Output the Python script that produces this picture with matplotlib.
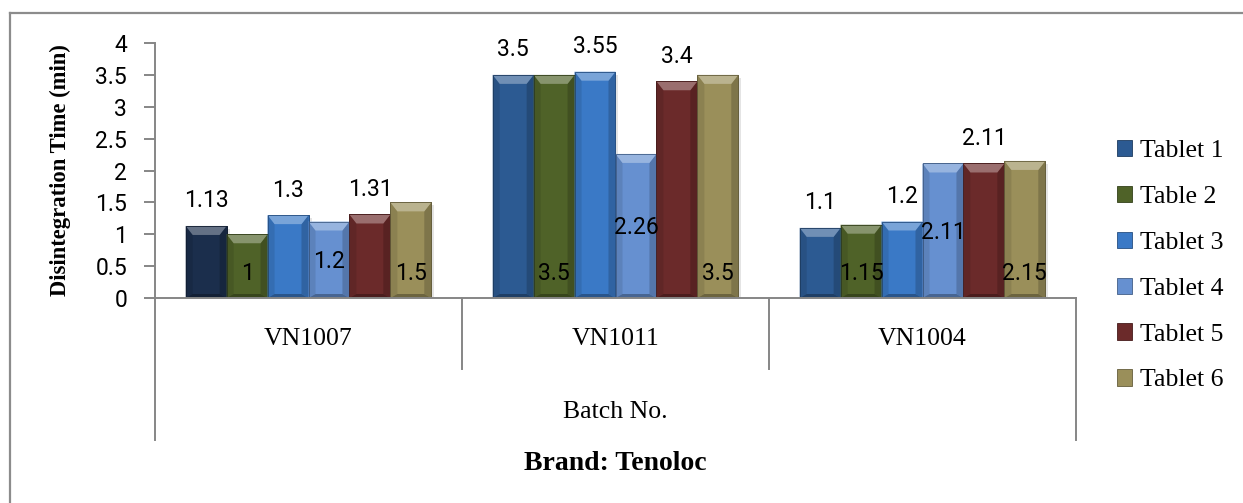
import matplotlib
matplotlib.use("Agg")
import matplotlib.pyplot as plt
from matplotlib.patches import Polygon, Rectangle
from matplotlib.lines import Line2D
from matplotlib.colors import to_rgb
import numpy as np

# ---------------- data ----------------
batches = ["VN1007", "VN1011", "VN1004"]
series_names = ["Tablet 1", "Table 2", "Tablet 3", "Tablet 4", "Tablet 5", "Tablet 6"]
tablet1 = [1.13, 3.5, 1.1]
table2 = [1.0, 3.5, 1.15]
tablet3 = [1.3, 3.55, 1.2]
tablet4 = [1.2, 2.26, 2.11]
tablet5 = [1.31, 3.4, 2.11]
tablet6 = [1.5, 3.5, 2.15]
series_values = [tablet1, table2, tablet3, tablet4, tablet5, tablet6]
y_ticks = [0, 0.5, 1, 1.5, 2, 2.5, 3, 3.5, 4]
y_tick_labels = ["0", "0.5", "1", "1.5", "2", "2.5", "3", "3.5", "4"]

# ---------------- style ----------------
colors = ["#2c5a92", "#4f6228", "#3a79c6", "#6690d0", "#6b2a2a", "#9a8f5a"]
point_color_override = {(0, 0): "#1b2e4c"}   # (series, category)
label_modes = ["out", "base", "out", "center", "out", "base"]
W, H, DPI = 12.43, 5.03, 100
PXW, PXH = 1243, 503
SERIF = "Liberation Serif"
SANS = "Roboto"
AX_GRAY = "#868686"


def mix(c, other, t):
    c = np.array(to_rgb(c)); o = np.array(to_rgb(other))
    return tuple(c * (1 - t) + o * t)


fig = plt.figure(figsize=(W, H), dpi=DPI)
ax_left, ax_right, ax_top, ax_bot = 155, 1076, 43, 298
ax = fig.add_axes([ax_left / PXW, 1 - ax_bot / PXH,
                   (ax_right - ax_left) / PXW, (ax_bot - ax_top) / PXH])
ax.set_xlim(-0.5, len(batches) - 0.5)
ax.set_ylim(0, 4)

n = len(series_names)
bw = 0.8 / n
x = np.arange(len(batches))

# pixel -> data scale
px_x = (len(batches)) / (ax_right - ax_left)
px_y = 4.0 / (ax_bot - ax_top)
bx = 7 * px_x
by = 9 * px_y
bb = 4 * px_y

handles = []
for j, (name, vals) in enumerate(zip(series_names, series_values)):
    xs = x + (j - (n - 1) / 2) * bw
    cols = [point_color_override.get((j, i), colors[j]) for i in range(len(batches))]
    bars = ax.bar(xs, vals, width=bw, color=cols, edgecolor=[mix(c, "k", 0.35) for c in cols],
                  linewidth=0.6, zorder=3, label=name)
    for rect, c, v in zip(bars, cols, vals):
        x0 = rect.get_x(); x1 = x0 + rect.get_width(); h = rect.get_height()
        # soft shadow
        ax.add_patch(Rectangle((x0 + 3 * px_x, 0), rect.get_width(), h - 3 * px_y,
                               facecolor="#e4e4e4", edgecolor="none", zorder=2))
        top = Polygon([(x0, h), (x1, h), (x1 - bx, h - by), (x0 + bx, h - by)],
                      closed=True, facecolor=mix(c, "white", 0.32), edgecolor="none", zorder=4)
        left = Polygon([(x0, 0), (x0, h), (x0 + bx, h - by), (x0 + bx, bb)],
                       closed=True, facecolor=mix(c, "black", 0.10), edgecolor="none", zorder=4)
        right = Polygon([(x1, 0), (x1, h), (x1 - bx, h - by), (x1 - bx, bb)],
                        closed=True, facecolor=mix(c, "black", 0.18), edgecolor="none", zorder=4)
        bottom = Polygon([(x0, 0), (x1, 0), (x1 - bx, bb), (x0 + bx, bb)],
                         closed=True, facecolor=mix(c, "black", 0.3), edgecolor="none", zorder=4)
        for p in (left, right, bottom, top):
            ax.add_patch(p)
        ax.add_patch(Rectangle((x0, 0), rect.get_width(), h, facecolor="none",
                               edgecolor=mix(c, "k", 0.35), linewidth=0.6, zorder=5))
        lbl = f"{v:g}"
        mode = label_modes[j]
        xc = x0 + rect.get_width() / 2
        if mode == "out":
            ax.annotate(lbl, (xc, h), xytext=(0, 25), textcoords="offset pixels",
                        ha="center", va="center", fontsize=16.5, family=SANS, zorder=6)
        elif mode == "base":
            ax.annotate(lbl, (xc, 0), xytext=(0, 25), textcoords="offset pixels",
                        ha="center", va="center", fontsize=16.5, family=SANS, zorder=6)
        else:
            ax.annotate(lbl, (xc, h / 2), xytext=(0, -2), textcoords="offset pixels",
                        ha="center", va="center", fontsize=16.5, family=SANS, zorder=6)
    handles.append(Rectangle((0, 0), 1, 1, facecolor=colors[j],
                             edgecolor=mix(colors[j], "k", 0.35), linewidth=0.6))

# axes styling
for s in ("top", "right"):
    ax.spines[s].set_visible(False)
for s in ("left", "bottom"):
    ax.spines[s].set_color(AX_GRAY)
    ax.spines[s].set_linewidth(1.4)
    ax.spines[s].set_zorder(7)
ax.set_yticks(y_ticks)
ax.set_yticklabels(y_tick_labels, family=SANS, fontsize=16.5)
ax.tick_params(axis="y", length=8, width=1.4, color=AX_GRAY, pad=12)
ax.set_xticks([])

# multi-level category axis lines
xt = ax.get_xaxis_transform()
lvl1 = -(369 - ax_bot) / (ax_bot - ax_top)
lvl2 = -(440 - ax_bot) / (ax_bot - ax_top)
for b in np.arange(len(batches) + 1) - 0.5:
    ybot = lvl2 if b in (-0.5, len(batches) - 0.5) else lvl1
    ax.add_line(Line2D([b, b], [0, ybot], transform=xt, color=AX_GRAY, lw=1.4, clip_on=False))

def yfrac(py):
    return -(py - ax_bot) / (ax_bot - ax_top)

for i, b in enumerate(batches):
    ax.text(i, yfrac(339), b, transform=xt, ha="center", va="center",
            family=SERIF, fontsize=18.5)
ax.text(0.5, yfrac(412), "Batch No.", transform=ax.transAxes, ha="center", va="center",
        family=SERIF, fontsize=18.5)
ax.text(0.5, yfrac(463), "Brand: Tenoloc", transform=ax.transAxes, ha="center", va="center",
        family=SERIF, fontsize=20, fontweight="bold")

fig.text(60 / PXW, 1 - 170 / PXH, "Disintegration Time (min)", rotation=90,
         ha="center", va="center", family=SERIF, fontsize=16.3, fontweight="bold")

leg = ax.legend(handles, series_names, loc="upper left",
                bbox_to_anchor=(1117 / PXW, 1 - 140 / PXH), bbox_transform=fig.transFigure,
                frameon=False, prop={"family": SERIF, "size": 18.5},
                handlelength=0.6, handleheight=0.6, handletextpad=0.3,
                labelspacing=0.92, borderpad=0, borderaxespad=0)

# outer border (top & left visible)
fig.add_artist(Line2D([10 / PXW, 1], [1 - 13 / PXH] * 2, transform=fig.transFigure,
                      color="#8c8c8c", lw=1.6))
fig.add_artist(Line2D([10 / PXW] * 2, [0, 1 - 13 / PXH], transform=fig.transFigure,
                      color="#8c8c8c", lw=1.6))

fig.savefig("out.png", dpi=DPI)
